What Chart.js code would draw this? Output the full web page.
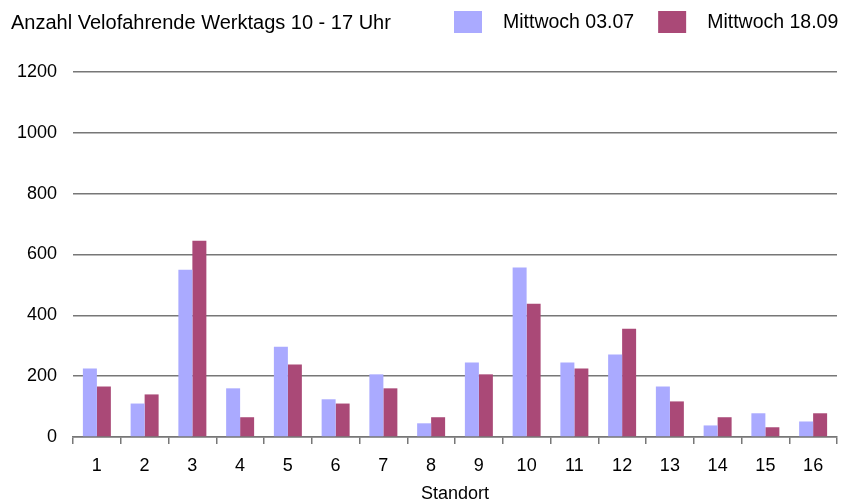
<!DOCTYPE html>
<html lang="de">
<head>
<meta charset="UTF-8" />
<title>Anzahl Velofahrende</title>
<script src="https://cdn.jsdelivr.net/npm/chart.js@4/dist/chart.umd.min.js"></script>
<style>
	html, body { margin:0; padding:0; background:#fff; }
	#wrap { position:relative; width:842px; height:504px; }
</style>
</head>
<body>
<div id="wrap"><canvas id="myChart" width="842" height="504"></canvas></div>
<script>
	const title = "Anzahl Velofahrende Werktags 10 - 17 Uhr";
	const standorte = ["1","2","3","4","5","6","7","8","9","10","11","12","13","14","15","16"];
	const juli = [225, 110, 550, 160, 297, 124, 206, 45, 245, 557, 245, 271, 166, 38, 78, 51];
	const september = [166, 140, 645, 65, 238, 110, 160, 65, 206, 438, 225, 356, 117, 65, 32, 78];
	const yTicks = [0, 200, 400, 600, 800, 1000, 1200];

	const FONT = '"Liberation Sans", Arial, Helvetica, sans-serif';

	// title on the left, legend on the right, both on one row
	const headerPlugin = {
		id: 'header',
		afterDraw(chart) {
			const ctx = chart.ctx;
			ctx.save();
			ctx.fillStyle = '#000';
			ctx.textBaseline = 'middle';
			ctx.textAlign = 'left';
			ctx.font = '20px ' + FONT;
			ctx.fillText(title, 11, 23);
			ctx.font = '19.5px ' + FONT;
			let x = 454;
			chart.data.datasets.forEach(ds => {
				ctx.fillStyle = ds.backgroundColor;
				ctx.fillRect(x, 11, 28, 22);
				x += 28 + 21;
				ctx.fillStyle = '#000';
				ctx.fillText(ds.label, x, 23);
				x += ctx.measureText(ds.label).width + 24;
			});
			ctx.restore();
		}
	};

	const ctx = document.getElementById('myChart').getContext('2d');
	const chart = new Chart(ctx, {
		type: 'bar',
		data: {
			labels: standorte,
			datasets: [{
				label: "Mittwoch 03.07",
				data: juli,
				backgroundColor: '#AAAAFF',
				borderWidth: 0
			},{
				label: "Mittwoch 18.09",
				data: september,
				backgroundColor: '#AA4977',
				borderWidth: 0
			}]
		},
		options: {
			responsive: false,
			animation: false,
			layout: { padding: { top: 72, right: 5, left: 0, bottom: 0 } },
			datasets: { bar: { categoryPercentage: 0.586, barPercentage: 1.0 } },
			plugins: {
				legend: { display: false },
				title: { display: false },
				tooltip: { enabled: false }
			},
			scales: {
				x: {
					afterFit(scale) { scale.height = 67; },
					grid: { offset: true, drawOnChartArea: false, drawTicks: true, tickLength: 7, color: '#777', lineWidth: 1.5 },
					border: { display: true, color: '#777', width: 1.5 },
					ticks: { color: '#000', font: { family: FONT, size: 18 }, padding: 11, maxRotation: 0 },
					title: { display: true, text: 'Standort', color: '#000', font: { family: FONT, size: 18 }, padding: { top: 0, bottom: -1 } }
				},
				y: {
					min: 0,
					max: 1200,
					afterFit(scale) { scale.width = 73; },
					afterBuildTicks(scale) { scale.ticks = yTicks.map(v => ({ value: v })); },
					grid: { drawTicks: false, color: '#777', lineWidth: 1.5 },
					border: { display: false },
					ticks: { color: '#000', font: { family: FONT, size: 18 }, padding: 16, callback: v => String(v) }
				}
			}
		},
		plugins: [headerPlugin]
	});
</script>
</body>
</html>
